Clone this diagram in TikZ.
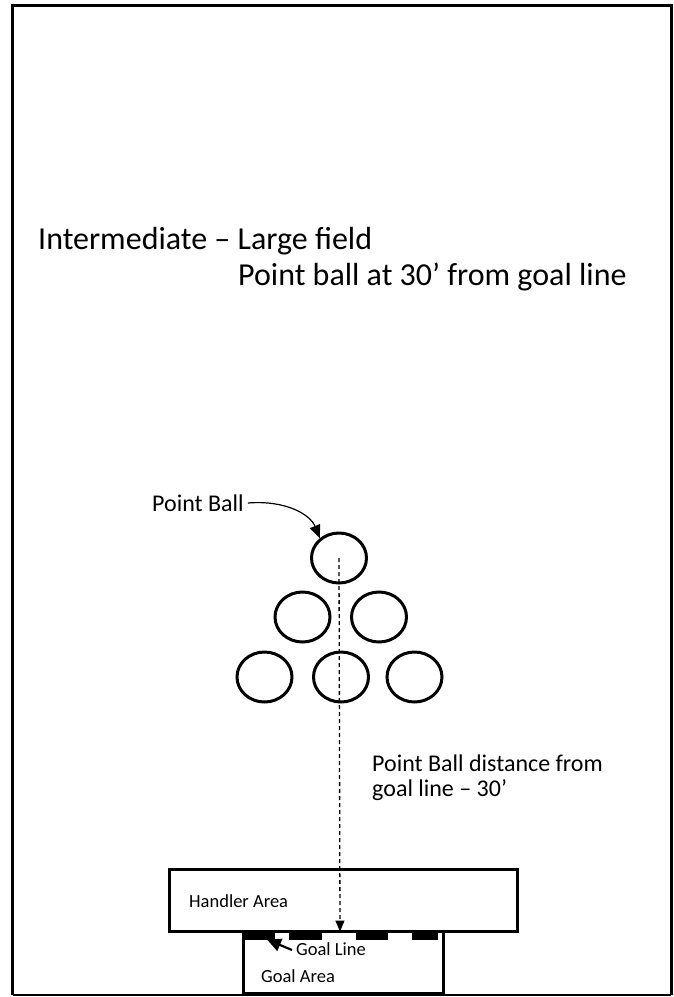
\documentclass[tikz,border=0pt]{standalone}
\usepackage{fontspec}
\setmainfont{Carlito}
\usetikzlibrary{shapes.geometric,arrows.meta}

\begin{document}
\begin{tikzpicture}[x=1pt,y=-1pt,
  ball/.style={ellipse,draw,line width=3pt,minimum width=55pt,minimum height=50pt,inner sep=0pt},
  area/.style={draw,line width=3pt},
  goalmark/.style={fill=black},
  bigtext/.style={anchor=base west,inner sep=0pt,font=\fontsize{32}{38}\selectfont},
  midtext/.style={anchor=base west,inner sep=0pt,font=\fontsize{24}{28}\selectfont},
  smalltext/.style={anchor=base west,inner sep=0pt,font=\fontsize{18.5}{22}\selectfont},
  lead/.style={line width=1.2pt}
]
\useasboundingbox (0,0) rectangle (674,997);

% field boundary
\draw[line width=3pt] (12.5,995) -- (12.5,5) -- (671,5) -- (671,995);
\draw[line width=1.2pt] (12.5,995) -- (671,995);

% headings
\node[bigtext] (title) at (38,249.5) {Intermediate – Large field};
\node[bigtext] (subtitle) at (238,285) {Point ball at 30’ from goal line};

% rack of balls
\node[ball] (b1) at (339,558) {};
\node[ball] (b2) at (302.5,617) {};
\node[ball] (b3) at (379,617) {};
\node[ball] (b4) at (264.5,677) {};
\node[ball] (b5) at (341,677) {};
\node[ball] (b6) at (414.5,677) {};

% point ball label
\node[midtext] (pblabel) at (152,511) {Point Ball};
\draw[lead,-{Triangle[width=11pt,length=13pt]}]
  (pblabel.east |- 0,503) ++(4,0) .. controls (285,500) and (310,514) .. (b1.134);

% handler and goal areas
\draw[area] (169.5,869.5) rectangle (517.5,931.5);
\draw[area] (243.5,932) -- (243.5,993) -- (443.5,993) -- (443.5,932);
\coordinate (goalline) at (340,931.5);

% goal line markers
\fill[goalmark] (243,932) rectangle (275,940);
\fill[goalmark] (289,932) rectangle (322,940);
\fill[goalmark] (356,932) rectangle (388,940);
\fill[goalmark] (412,932) rectangle (438,940);

% distance from point ball to goal line
\draw[line width=1.3pt,dash pattern=on 4pt off 3pt,-{Triangle[width=9pt,length=11pt]}]
  (b1.center) -- (goalline);
\node[midtext] (dist1) at (372,771) {Point Ball distance from};
\node[midtext] (dist2) at (372,796) {goal line – 30’};

% area labels
\node[smalltext] (handler) at (189,907) {Handler Area};
\node[smalltext] (glabel) at (296,955) {Goal Line};
\node[smalltext] (garea) at (261,982) {Goal Area};
\draw[line width=2.2pt,-{Triangle[width=13pt,length=14pt]}]
  (glabel.west |- 0,950) ++(-4,0) -- (267,939.5);
\end{tikzpicture}
\end{document}
